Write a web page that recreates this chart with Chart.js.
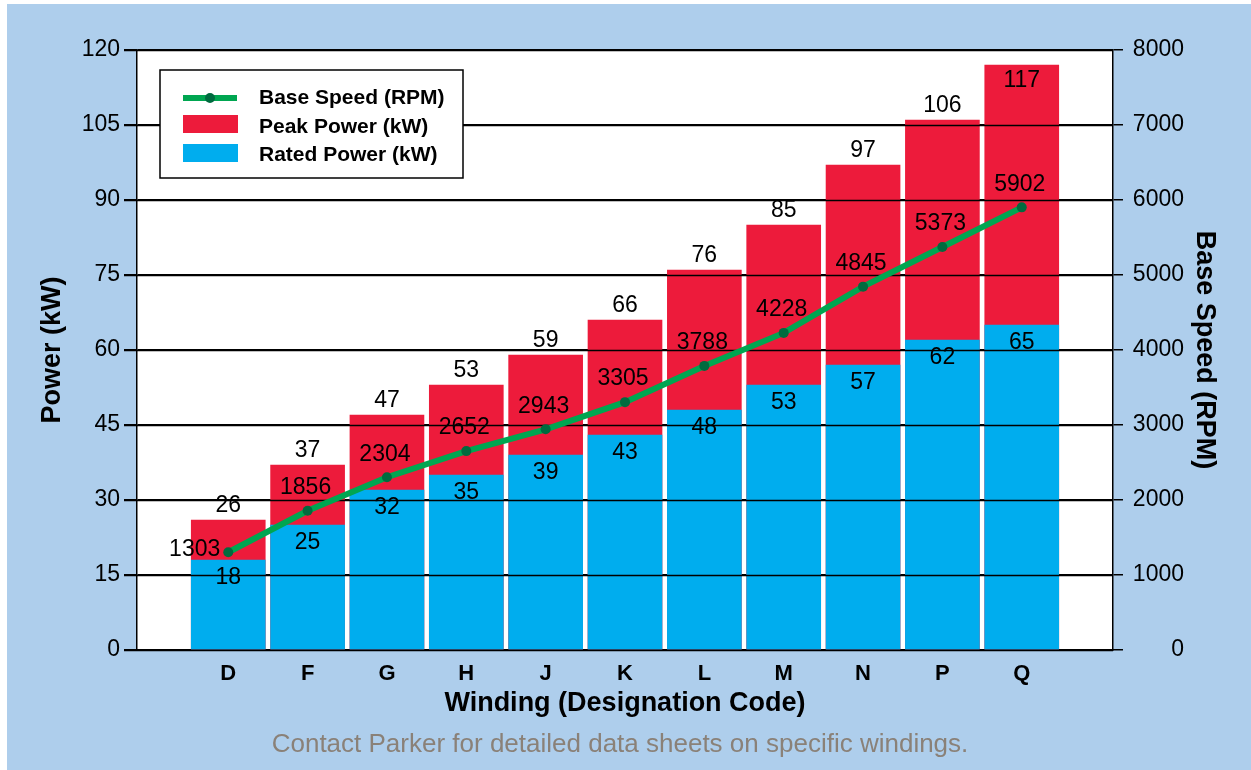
<!DOCTYPE html>
<html>
<head>
<meta charset="utf-8">
<script src="https://cdn.jsdelivr.net/npm/chart.js@4"></script>
<style>
  html, body { margin: 0; padding: 0; background: #fff; }
  #wrap { width: 1251px; height: 770px; }
</style>
</head>
<body>
<div id="wrap"><canvas id="chart" width="1251" height="770"></canvas></div>
<script>
const windings = ['D', 'F', 'G', 'H', 'J', 'K', 'L', 'M', 'N', 'P', 'Q'];
const peakPower = [26, 37, 47, 53, 59, 66, 76, 85, 97, 106, 117];
const ratedPower = [18, 25, 32, 35, 39, 43, 48, 53, 57, 62, 65];
const baseSpeed = [1303, 1856, 2304, 2652, 2943, 3305, 3788, 4228, 4845, 5373, 5902];
const powerTicks = [0, 15, 30, 45, 60, 75, 90, 105, 120];
const speedTicks = [0, 1000, 2000, 3000, 4000, 5000, 6000, 7000, 8000];
const footNote = 'Contact Parker for detailed data sheets on specific windings.';

const RED = '#ED1B3B';
const BLUE = '#00ADEE';
const GREEN = '#00A651';
const DARK_GREEN = '#006B3F';
const BG = '#AECEEC';
const FONT = "'Liberation Sans', Arial, Helvetica, sans-serif";

Chart.defaults.font.family = FONT;
Chart.defaults.color = '#000';

// light blue page + white plot area
const background = {
  id: 'background',
  beforeDraw(chart) {
    const { ctx, chartArea: a } = chart;
    ctx.save();
    ctx.fillStyle = '#fff';
    ctx.fillRect(0, 0, chart.width, chart.height);
    ctx.fillStyle = BG;
    ctx.fillRect(7, 4, chart.width - 7, chart.height - 4);
    ctx.fillStyle = '#fff';
    ctx.fillRect(a.left, a.top, a.right - a.left, a.bottom - a.top);
    ctx.restore();
  }
};

// gridlines sit on top of the bars, under the speed line
const gridOverBars = {
  id: 'gridOverBars',
  afterDatasetDraw(chart, args) {
    if (args.index !== 1) return;
    const { ctx, chartArea: a } = chart;
    const y = chart.scales.y;
    ctx.save();
    ctx.strokeStyle = '#000';
    ctx.lineWidth = 1.5;
    y.ticks.forEach(t => {
      const py = Math.round(y.getPixelForValue(t.value)) + 0.5;
      ctx.beginPath();
      ctx.moveTo(a.left - 13, py);
      ctx.lineTo(a.right, py);
      ctx.stroke();
    });
    ctx.restore();
  }
};

const valueLabels = {
  id: 'valueLabels',
  afterDatasetsDraw(chart) {
    const { ctx, chartArea: a } = chart;
    ctx.save();
    ctx.font = '23px ' + FONT;
    ctx.fillStyle = '#000';
    ctx.textAlign = 'center';
    ctx.textBaseline = 'middle';

    chart.getDatasetMeta(0).data.forEach((el, i) => {
      let y = el.y - 14;
      if (y - 12 < a.top) y = el.y + 16;
      ctx.fillText(peakPower[i], el.x, y);
    });
    chart.getDatasetMeta(1).data.forEach((el, i) => {
      ctx.fillText(ratedPower[i], el.x, el.y + 18);
    });
    chart.getDatasetMeta(2).data.forEach((el, i) => {
      if (i === 0) {
        ctx.textAlign = 'right';
        ctx.fillText(baseSpeed[i], el.x - 8, el.y - 3);
        ctx.textAlign = 'center';
      } else {
        ctx.fillText(baseSpeed[i], el.x - 2, el.y - 23);
      }
    });
    ctx.restore();
  }
};

const boxLegend = {
  id: 'boxLegend',
  afterDraw(chart) {
    const { ctx, chartArea: a } = chart;
    const x = a.left + 23, y = a.top + 20;
    ctx.save();
    ctx.fillStyle = '#fff';
    ctx.fillRect(x, y, 303, 108);
    ctx.strokeStyle = '#000';
    ctx.lineWidth = 1.5;
    ctx.strokeRect(x, y, 303, 108);

    const sx = x + 23;
    ctx.strokeStyle = GREEN;
    ctx.lineWidth = 6;
    ctx.beginPath();
    ctx.moveTo(sx, y + 28);
    ctx.lineTo(sx + 54, y + 28);
    ctx.stroke();
    ctx.fillStyle = DARK_GREEN;
    ctx.beginPath();
    ctx.arc(sx + 27, y + 28, 5, 0, Math.PI * 2);
    ctx.fill();
    ctx.fillStyle = RED;
    ctx.fillRect(sx, y + 45, 55, 18);
    ctx.fillStyle = BLUE;
    ctx.fillRect(sx, y + 74, 55, 18);

    ctx.fillStyle = '#000';
    ctx.font = 'bold 21px ' + FONT;
    ctx.textBaseline = 'middle';
    const labels = chart.data.datasets.map(d => d.label);
    ctx.fillText(labels[2], x + 99, y + 28);
    ctx.fillText(labels[0], x + 99, y + 57);
    ctx.fillText(labels[1], x + 99, y + 85);

    // footnote under the axis title
    ctx.fillStyle = '#8A8178';
    ctx.font = '26px ' + FONT;
    ctx.textAlign = 'center';
    ctx.fillText(footNote, 620, 745);
    ctx.restore();
  }
};

new Chart(document.getElementById('chart'), {
  data: {
    datasets: [
      {
        type: 'bar',
        label: 'Peak Power (kW)',
        data: peakPower.map((v, i) => ({ x: i, y: v })),
        backgroundColor: RED,
        grouped: false,
        barThickness: 74,
        yAxisID: 'y',
        order: 2
      },
      {
        type: 'bar',
        label: 'Rated Power (kW)',
        data: ratedPower.map((v, i) => ({ x: i, y: v })),
        backgroundColor: BLUE,
        grouped: false,
        barThickness: 74,
        yAxisID: 'y',
        order: 1
      },
      {
        type: 'line',
        label: 'Base Speed (RPM)',
        data: baseSpeed.map((v, i) => ({ x: i, y: v })),
        borderColor: GREEN,
        borderWidth: 6,
        pointRadius: 5,
        pointBorderWidth: 0,
        pointBackgroundColor: DARK_GREEN,
        tension: 0,
        yAxisID: 'y2',
        order: 0
      }
    ]
  },
  options: {
    responsive: false,
    animation: false,
    events: [],
    layout: { padding: { top: 50, left: 0, right: 67, bottom: 50 } },
    plugins: {
      legend: { display: false },
      tooltip: { enabled: false }
    },
    scales: {
      x: {
        type: 'linear',
        offset: false,
        min: -1.15,
        max: 11.15,
        afterBuildTicks: s => { s.ticks = windings.map((w, i) => ({ value: i })); },
        afterFit: s => { s.height = 70; },
        ticks: {
          callback: v => windings[v],
          font: { size: 22, weight: 'bold' },
          padding: 3,
          maxRotation: 0,
          autoSkip: false
        },
        grid: { display: false, offset: false },
        border: { display: true, color: '#000', width: 1.5 },
        title: {
          display: true,
          text: 'Winding (Designation Code)',
          font: { size: 27, weight: 'bold', lineHeight: 1.2 },
          padding: { top: 0, bottom: 0 }
        }
      },
      y: {
        position: 'left',
        min: 0,
        max: 120,
        afterBuildTicks: s => { s.ticks = powerTicks.map(v => ({ value: v })); },
        afterFit: s => { s.width = 137; },
        ticks: { font: { size: 23 }, padding: 4 },
        grid: { color: '#000', lineWidth: 1.5, tickLength: 13 },
        border: { display: true, color: '#000', width: 1.5 },
        title: {
          display: true,
          text: 'Power (kW)',
          font: { size: 27, weight: 'bold', lineHeight: 1.2 },
          padding: { top: 36, bottom: 0 }
        }
      },
      y2: {
        position: 'right',
        min: 0,
        max: 8000,
        afterBuildTicks: s => { s.ticks = speedTicks.map(v => ({ value: v })); },
        afterFit: s => { s.width = 71; },
        ticks: { font: { size: 23 }, padding: 6, crossAlign: 'far', callback: v => String(v) },
        grid: { drawOnChartArea: false, color: '#000', lineWidth: 1.5, tickLength: 10 },
        border: { display: true, color: '#000', width: 1.5 },
        title: {
          display: true,
          text: 'Base Speed (RPM)',
          font: { size: 27, weight: 'bold', lineHeight: 1.2 },
          padding: { top: -37, bottom: 0 }
        }
      }
    }
  },
  plugins: [background, gridOverBars, valueLabels, boxLegend]
});
</script>
</body>
</html>
